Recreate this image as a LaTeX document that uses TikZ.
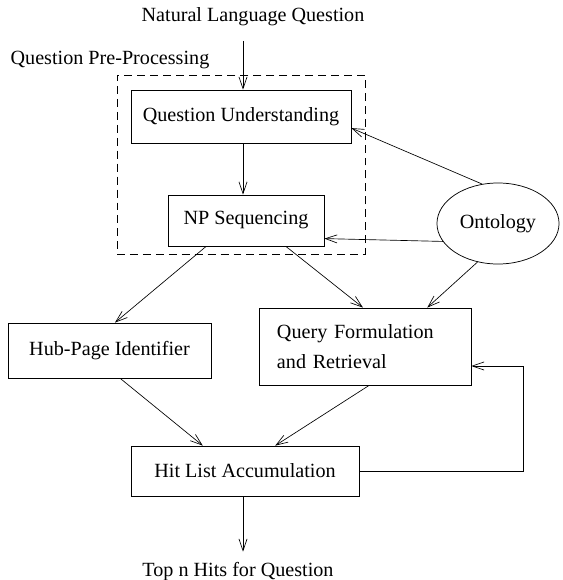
\documentclass[tikz,border=0pt]{standalone}
\usepackage{fontspec}
\setmainfont{Liberation Serif}
\usepackage{tikz}
\usetikzlibrary{arrows.meta,positioning,shapes.geometric}
\tikzset{procbox/.style={draw, rectangle, inner sep=0pt, line width=0.5pt}}
\tikzset{dashbox/.style={draw, dashed, dash pattern=on 5.4pt off 3.4pt, line width=0.5pt, minimum width=168.6pt, minimum height=121.7pt}}
\tikzset{arr/.style={draw, line width=0.45pt, -{Straight Barb[length=8pt,width=5.5pt]}}}

\begin{document}
\begin{tikzpicture}[x=0.68pt, y=-0.68pt, font=\fontsize{13.7}{16}\selectfont]
				\useasboundingbox (0,0) rectangle (562,580);

				\node (nlq) at (253,17) {Natural Language Question};
				\node (qpp) at (110,60) {Question Pre-Processing};
				\node[dashbox] (pre) at (241,164.5) {};

				\node[procbox, minimum width=149.6pt, minimum height=36pt] (qu) at (241,116.5) {Question Understanding};
				\node[procbox, minimum width=106.1pt, minimum height=34.7pt] (nps) at (246,220.5) {NP Sequencing};
				\node[draw, ellipse, line width=0.5pt, inner sep=0pt, minimum width=83pt, minimum height=55.1pt] (onto) at (498,223.5) {Ontology};

				\node[procbox, minimum width=138pt, minimum height=37.4pt] (hub) at (109.5,350.5) {Hub-Page Identifier};
				\node[procbox, minimum height=52.4pt, text width=119.7pt, inner xsep=12.2pt, align=left,
					font=\fontsize{13.7}{20.4}\selectfont] (qfr) at (365,346.5) {Query Formulation\\and Retrieval};
				\node[procbox, minimum width=155pt, minimum height=34pt] (hla) at (245,471) {Hit List Accumulation};

				\node (hits) at (238,572) {Top n Hits for Question};
				\coordinate (fb) at (523,366);

				\draw[arr, shorten <=6.5pt] (nlq.south -| qu.north) ++(2,0) coordinate (nlqa) -- (nlqa |- qu.north);
				\draw[arr] (qu.south) ++(2,0) coordinate (qua) -- (qua |- nps.north);

				\draw[arr] (onto.112) -- (qu.354);
				\draw[arr] (onto.198) -- (nps.347);

				\draw[arr] (nps.213) -- (hub.79);
				\draw[arr] (nps.327) -- (qfr.93);
				\draw[arr] (onto.242) -- (qfr.32);

				\draw[arr] (hub.291) -- (hla.149);
				\draw[arr] (qfr.276) -- (hla.40);

				\draw[arr] (hla.east) -| (fb) -- (fb -| qfr.east);
				\draw[arr, shorten >=4pt] (hla.south -| qua) -- (qua |- hits.north);
			\end{tikzpicture}
\end{document}
